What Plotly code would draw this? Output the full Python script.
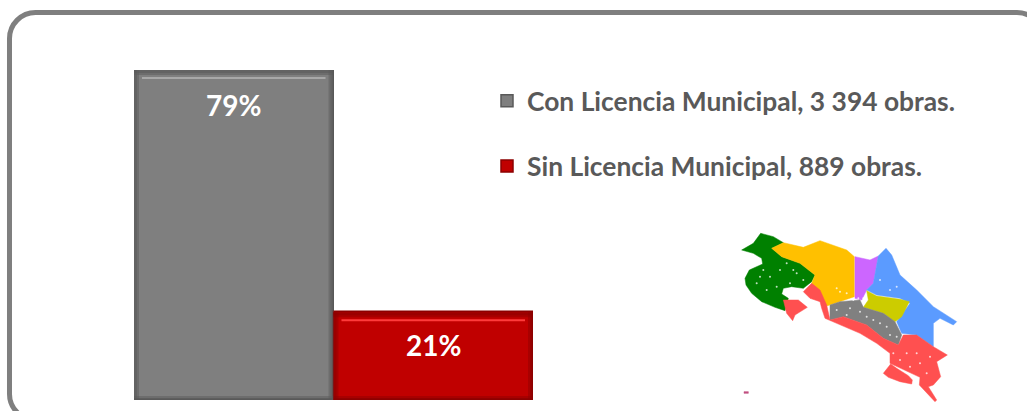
import plotly.graph_objects as go

W, H = 1027, 411
series_names = ["Con Licencia Municipal, 3 394 obras.", "Sin Licencia Municipal, 889 obras."]
shares = [79, 21]
share_labels = ["79%", "21%"]
bar_colors = ["#7f7f7f", "#c00000"]
edge_colors = ["#595959", "#8c0000"]
shine_colors = ["#a8a8a8", "#ff3b3b"]

# Map outline, in the pixel coordinates of a 780x570 crop of the picture
green_x = [65,100,122,160,190,155,185,240,285,275,250,215,190,185,205,195,165,125,95,78,75,88,128,125,100]
green_y = [90,70,40,50,68,85,110,130,165,185,205,200,205,222,235,272,262,245,220,195,175,150,132,115,100]
amber_x = [155,190,250,300,380,403,403,360,320,300,285,275,285,240,185]
amber_y = [85,68,82,62,90,110,230,245,258,235,205,190,165,130,110]
violet_x = [405,450,475,460,440,425,405]
violet_y = [110,120,108,190,210,240,235]
blue_x = [498,515,540,590,640,710,700,660,640,640,590,545,530,570,540,470,440,460,475]
blue_y = [85,105,165,210,260,305,315,295,310,380,345,340,305,250,235,225,210,190,108]
olive_x = [440,470,540,568,545,525,490,430,445]
olive_y = [212,228,238,245,290,305,280,262,240]
slate_x = [330,360,420,430,490,525,545,535,490,440,370,330]
slate_y = [255,245,240,262,280,305,345,375,355,315,290,300]
coral_x = [250,275,300,320,330,370,440,490,535,550,590,640,682,650,662,640,625,650,645,598,600,570,530,510,510,470,420,350,315,305,300,270]
coral_y = [215,190,210,255,300,290,315,355,375,345,345,380,405,425,470,495,500,540,545,495,472,458,438,430,400,370,340,310,295,265,245,235]
peninsula_x = [190,235,262,225,218,200]
peninsula_y = [240,240,262,285,302,280]
osa_x = [490,512,530,565,577,575,540,505]
osa_y = [460,432,445,467,480,492,485,472]
islet_x = [72,85,85,72]
islet_y = [515,515,520,520]
map_parts = [
    (green_x, green_y, "#008000"), (amber_x, amber_y, "#ffc000"), (violet_x, violet_y, "#cc66ff"),
    (blue_x, blue_y, "#5b9bff"), (olive_x, olive_y, "#cccc00"), (slate_x, slate_y, "#808080"),
    (coral_x, coral_y, "#ff5050"), (peninsula_x, peninsula_y, "#ff5050"), (osa_x, osa_y, "#ff5050"),
    (islet_x, islet_y, "#c05080"),
]
speck_x = [130,150,200,230,110,140,210,170,120,220,250,180,350,390,420,460,500,530,380,440,510,480,
           560,600,620,540,590,630,570,520,510,480,530,360,380,350,430,415,400]
speck_y = [150,170,130,160,190,210,190,200,170,150,180,150,270,265,275,300,320,350,285,290,345,310,
           400,430,460,420,400,410,440,400,210,180,200,215,220,205,235,235,240]

PL, PR, PT, PB = 134, 533, 70, 400

fig = go.Figure()
for i, name in enumerate(series_names):
    fig.add_trace(go.Bar(
        x=[i], y=[shares[i]], name=name, legendgroup=name, width=1,
        marker=dict(color=bar_colors[i], line=dict(color=edge_colors[i], width=1.5)),
        hoverinfo="skip", xaxis="x", yaxis="y",
    ))

for xs, ys, col in map_parts:
    fig.add_trace(go.Scatter(
        x=xs + xs[:1], y=ys + ys[:1], mode="lines", fill="toself", fillcolor=col,
        line=dict(color=col, width=0.5), showlegend=False, hoverinfo="skip",
        xaxis="x2", yaxis="y2",
    ))
fig.add_trace(go.Scatter(x=speck_x, y=speck_y, mode="markers", marker=dict(color="white", size=2, opacity=.75),
                         showlegend=False, hoverinfo="skip", xaxis="x2", yaxis="y2"))

shapes = []
for i, v in enumerate(shares):
    e, s = edge_colors[i], shine_colors[i]
    common = dict(xref="x", yref="y", line_width=0, layer="above", fillcolor=e)
    for depth, alpha in ((5, .45), (3, .5)):
        shapes += [
            dict(type="rect", x0=i-.5, x1=i+.5, ysizemode="pixel", yanchor=v, y0=0, y1=-depth, opacity=alpha, **common),
            dict(type="rect", x0=i-.5, x1=i+.5, ysizemode="pixel", yanchor=0, y0=0, y1=depth-1, opacity=alpha, **common),
            dict(type="rect", xsizemode="pixel", xanchor=i-.5, x0=0, x1=depth, y0=0, y1=v, opacity=alpha, **common),
            dict(type="rect", xsizemode="pixel", xanchor=i+.5, x0=-depth, x1=0, y0=0, y1=v, opacity=alpha, **common),
        ]
    shapes.append(dict(type="rect", xref="x", yref="y", x0=i-.46, x1=i+.46, ysizemode="pixel", yanchor=v,
                       y0=-7, y1=-9, fillcolor=s, line_width=0, layer="above"))

# Rounded frame, clipped by the page on the right and bottom
def pt(x, y): return f"{x/W:.5f},{(H-y)/H:.5f}"
L, T, R, B, r = 9.5, 12.5, 1043, 420, 26
k = r * 0.45
frame = (f"M{pt(L+r,T)} L{pt(R-r,T)} C{pt(R-k,T)} {pt(R,T+k)} {pt(R,T+r)} L{pt(R,B-r)} "
         f"C{pt(R,B-k)} {pt(R-k,B)} {pt(R-r,B)} L{pt(L+r,B)} C{pt(L+k,B)} {pt(L,B-k)} {pt(L,B-r)} "
         f"L{pt(L,T+r)} C{pt(L,T+k)} {pt(L+k,T)} {pt(L+r,T)} Z")
shapes.append(dict(type="path", xref="paper", yref="paper", path=frame, line=dict(color="#7f7f7f", width=5), layer="below"))

annotations = [
    dict(x=i, y=shares[i], xref="x", yref="y", text=f"<b>{share_labels[i]}</b>", showarrow=False,
         yanchor="middle", yshift=-35 if i == 0 else -33,
         font=dict(family="Lato", size=28, color="white"))
    for i in range(2)
]

fig.update_layout(
    width=W, height=H, autosize=False, paper_bgcolor="white", plot_bgcolor="rgba(0,0,0,0)",
    margin=dict(l=0, r=0, t=0, b=0, pad=0), bargap=0, barmode="overlay",
    xaxis=dict(domain=[PL/W, PR/W], range=[-.5, 1.5], visible=False, fixedrange=True),
    yaxis=dict(domain=[(H-PB)/H, (H-PT)/H], range=[0, 79], visible=False, fixedrange=True),
    xaxis2=dict(domain=[720/W, 980/W], range=[0, 780], visible=False, anchor="y2", fixedrange=True),
    yaxis2=dict(domain=[(H-410)/H, (H-220)/H], range=[570, 0], visible=False, anchor="x2", fixedrange=True),
    shapes=shapes, annotations=annotations,
    legend=dict(x=487/W, y=1-77/H, xanchor="left", yanchor="top",
                tracegroupgap=28, itemclick=False, itemdoubleclick=False, bgcolor="rgba(0,0,0,0)",
                font=dict(family="Lato", size=26.4, color="#595959", weight="bold")),
)
fig.write_html("out.html", config=dict(displayModeBar=False),
               post_script="document.body.style.margin='0';document.documentElement.style.overflow='hidden';")
